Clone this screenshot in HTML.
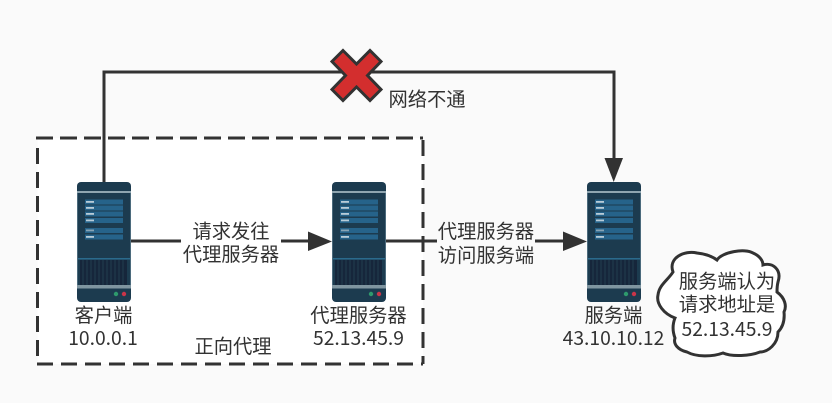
<!DOCTYPE html>
<html><head><meta charset="utf-8">
<style>
html,body{margin:0;padding:0;background:#fafafa;width:832px;height:403px;overflow:hidden}
svg{display:block}
text{font-family:"Noto Sans CJK SC","Liberation Sans",sans-serif;font-size:19.300px;fill:#333;text-anchor:middle}
</style></head>
<body>
<svg width="832" height="403" viewBox="0 0 832 403" xmlns="http://www.w3.org/2000/svg">
<defs>
<filter id="soft" x="-5%" y="-5%" width="110%" height="110%"><feGaussianBlur stdDeviation="0.35"/></filter>
<g id="srv">
<rect x="0" y="0" width="54" height="120" rx="4" fill="#1d3b50"/>
<rect x="0" y="9" width="54" height="2" fill="#8fa5b0"/>
<rect x="0" y="11" width="1" height="92" fill="#4b6a7c"/>
<rect x="53" y="11" width="1" height="92" fill="#4b6a7c"/>
<rect x="8" y="17.500" width="38" height="5" fill="#27648a"/>
<rect x="8" y="23.500" width="38" height="5" fill="#27648a"/>
<rect x="8" y="29.500" width="38" height="5" fill="#27648a"/>
<rect x="8" y="36" width="38" height="5" fill="#27648a"/>
<rect x="8" y="46" width="38" height="5" fill="#27648a"/>
<rect x="8" y="52.500" width="38" height="5" fill="#27648a"/>
<rect x="9" y="19" width="8" height="1.800" fill="#b8ccd8"/>
<rect x="9" y="25" width="8" height="1.800" fill="#b8ccd8"/>
<rect x="9" y="31" width="8" height="1.800" fill="#b8ccd8"/>
<rect x="9" y="37.500" width="8" height="1.800" fill="#b8ccd8"/>
<rect x="9" y="47.500" width="8" height="1.800" fill="#86a3b5"/>
<rect x="9" y="54" width="8" height="1.800" fill="#b8ccd8"/>
<rect x="1" y="76" width="52" height="1.500" fill="#2a6a8c"/>
<rect x="3" y="78" width="47" height="25" fill="#12263a"/>
<path d="M6 78v25M10 78v25M14 78v25M18 78v25M22 78v25M26 78v25M30 78v25M34 78v25M38 78v25M42 78v25M46 78v25" stroke="#223b4e" stroke-width="1.200"/>
<rect x="0" y="103" width="54" height="3.500" fill="#7f95a0"/>
<circle cx="39" cy="112" r="2.200" fill="#2f9a6c"/>
<circle cx="47" cy="112" r="2.200" fill="#c9344a"/>
</g>
</defs>

<g filter="url(#soft)">
<rect x="37.500" y="138" width="385.500" height="226" fill="#fff"/>
<path d="M36 138H423" fill="none" stroke="#333" stroke-width="3" stroke-dasharray="17 7"/>
<path d="M37.500 148V364" fill="none" stroke="#333" stroke-width="3" stroke-dasharray="16 8"/>
<path d="M423 140V364" fill="none" stroke="#333" stroke-width="3" stroke-dasharray="16 8"/>
<path d="M37 364H423" fill="none" stroke="#333" stroke-width="3" stroke-dasharray="16 8"/>

<path d="M104 182V72H614V158" fill="none" stroke="#333" stroke-width="3"/>
<path d="M604.500 158H623L613.700 182Z" fill="#333"/>

<path d="M131 241H308" fill="none" stroke="#333" stroke-width="3"/>
<path d="M308 231.500L332 241.500L308 251Z" fill="#333"/>
<path d="M386 241H563" fill="none" stroke="#333" stroke-width="3"/>
<path d="M563 231.500L587 241.500L563 251Z" fill="#333"/>

<use href="#srv" x="77" y="182"/>
<use href="#srv" x="332" y="182"/>
<use href="#srv" x="587" y="182"/>

<rect x="181" y="220" width="100" height="48" fill="#fff"/>
<rect x="437" y="218" width="98" height="50" fill="#fafafa"/>
<text x="231" y="238">请求发往</text>
<text x="231" y="261">代理服务器</text>
<text x="486" y="238">代理服务器</text>
<text x="486" y="262">访问服务端</text>

<path d="M343 50.500L356.500 64L370 50.500L381 61.500L367.500 75.500L381 89.500L370 100.500L356.500 87L343 100.500L332 89.500L345.500 75.500L332 61.500Z" fill="#d32f2f" stroke="#333" stroke-width="3"/>
<text x="427" y="106">网络不通</text>

<text x="103.500" y="322">客户端</text>
<text x="103" y="345">10.0.0.1</text>
<text x="358.500" y="322">代理服务器</text>
<text x="358.500" y="345">52.13.45.9</text>
<text x="233" y="353">正向代理</text>
<text x="613.500" y="322">服务端</text>
<text x="613.500" y="345">43.10.10.12</text>

<path d="M673 272C668 258 684 250 697 253C706 254 713 257 717 260C722 252 745 248 753 253C760 256 763 261 763 265C773 262 782 270 778 282C777 286 777 290 777 292C785 298 787 306 784 312C785 322 782 328 778 332C778 344 768 352 760 352C750 356 732 357 723 353C712 357 696 357 687 352C678 350 673 344 675 338C672 330 673 323 675 318C664 314 656 304 658 295C659 285 668 280 673 272Z" fill="#fff" stroke="#333" stroke-width="3"/>
<text x="727" y="288">服务端认为</text>
<text x="727" y="311">请求地址是</text>
<text x="727" y="336">52.13.45.9</text>
</g>
</svg>
</body></html>
